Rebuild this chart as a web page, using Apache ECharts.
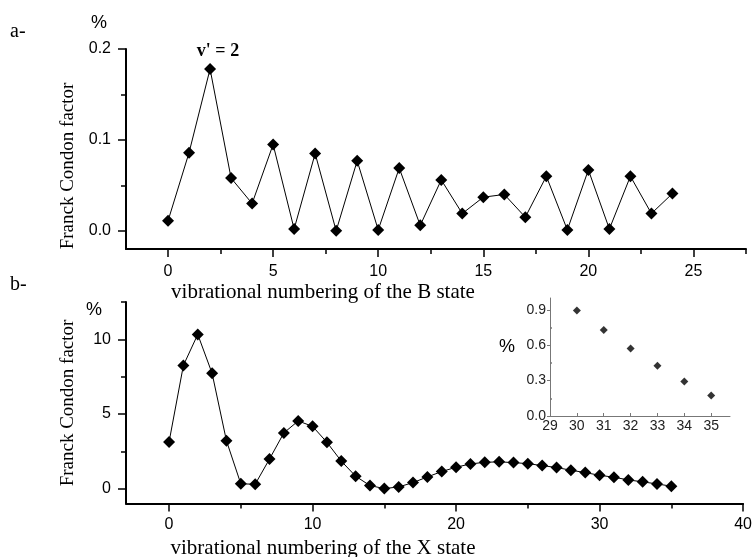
<!DOCTYPE html>
<html>
<head>
<meta charset="utf-8">
<script src="https://cdn.jsdelivr.net/npm/echarts@6/dist/echarts.min.js"></script>
<style>html,body{margin:0;padding:0;background:#fff}#c{width:755px;height:557px}</style>
</head>
<body>
<div id="c"></div>
<script>
// Panel a: Franck-Condon factors vs B-state vibrational level v'
const levelsB = [0,1,2,3,4,5,6,7,8,9,10,11,12,13,14,15,16,17,18,19,20,21,22,23,24];
const fcfB = [0.011,0.086,0.178,0.058,0.030,0.095,0.002,0.085,0.000,0.077,0.001,0.069,0.006,0.056,0.019,0.037,0.040,0.015,0.060,0.001,0.067,0.002,0.060,0.019,0.041];
// Panel b: Franck-Condon factors vs X-state vibrational level
const levelsX = [0,1,2,3,4,5,6,7,8,9,10,11,12,13,14,15,16,17,18,19,20,21,22,23,24,25,26,27,28,29,30,31,32,33,34,35];
const fcfX = [3.12,8.25,10.33,7.72,3.20,0.32,0.29,1.98,3.73,4.53,4.17,3.10,1.84,0.83,0.20,0.00,0.11,0.40,0.78,1.14,1.43,1.65,1.76,1.79,1.74,1.67,1.54,1.41,1.23,1.07,0.89,0.76,0.58,0.45,0.31,0.16];
// Inset: tail of panel b
const levelsInset = [30,31,32,33,34,35];
const fcfInset = [0.895,0.729,0.573,0.425,0.293,0.174];
// Tick labels
const ticksTopX = [0,5,10,15,20,25];
const minorTopX = [2.5,7.5,12.5,17.5,22.5,27.5];
const ticksTopY = [0,0.1,0.2];
const minorTopY = [0.05,0.15];
const ticksBotX = [0,10,20,30,40];
const minorBotX = [5,15,25,35];
const ticksBotY = [0,5,10];
const minorBotY = [2.5,7.5,12.5];
const ticksInsetX = [29,30,31,32,33,34,35];
const ticksInsetY = [0,0.3,0.6,0.9];
const minorInsetY = [0.15,0.45,0.75];

const SANS = "'Liberation Sans', Arial, sans-serif";
const SERIF = "'Liberation Serif', 'Times New Roman', serif";

function mainAxis(dim, grid, min, max, major, fmt, margin) {
  return {
    type: 'value', gridIndex: grid, min: min, max: max,
    position: dim === 'x' ? 'bottom' : 'left',
    splitLine: {show: false},
    axisLine: {show: true, onZero: false, lineStyle: {color: '#000', width: 2}},
    axisTick: {show: true, inside: false, length: 8, customValues: major, lineStyle: {color: '#000', width: 1.5}},
    axisLabel: {show: true, customValues: major, margin: margin, color: '#000', fontFamily: SANS, fontSize: 16,
      formatter: fmt, showMinLabel: true, showMaxLabel: true}
  };
}
function minorAxis(dim, grid, min, max, minor, len, color, inside) {
  return {
    type: 'value', gridIndex: grid, min: min, max: max,
    position: dim === 'x' ? 'bottom' : 'left',
    splitLine: {show: false},
    axisLine: {show: false, onZero: false},
    axisTick: {show: true, inside: !!inside, length: len, customValues: minor, lineStyle: {color: color, width: 1.5}},
    axisLabel: {show: false}
  };
}

const xAxes = [
  mainAxis('x', 0, -2, 27.5, ticksTopX, v => String(v), 15),
  minorAxis('x', 0, -2, 27.5, minorTopX, 5, '#000'),
  mainAxis('x', 1, -3, 40, ticksBotX, v => String(v), 13),
  minorAxis('x', 1, -3, 40, minorBotX, 5, '#000'),
  {
    type: 'value', gridIndex: 2, min: 29, max: 35.7, position: 'bottom',
    splitLine: {show: false},
    axisLine: {show: true, onZero: false, lineStyle: {color: '#777', width: 1}},
    axisTick: {show: true, inside: true, length: 3, customValues: ticksInsetX, lineStyle: {color: '#777', width: 1}},
    axisLabel: {show: true, customValues: ticksInsetX, margin: 3, color: '#222', fontFamily: SANS, fontSize: 14}
  }
];
const yAxes = [
  mainAxis('y', 0, -0.02, 0.2, ticksTopY, v => v.toFixed(1), 15),
  minorAxis('y', 0, -0.02, 0.2, minorTopY, 5, '#000'),
  mainAxis('y', 1, -1, 12.5, ticksBotY, v => String(v), 15),
  minorAxis('y', 1, -1, 12.5, minorBotY, 5, '#000'),
  {
    type: 'value', gridIndex: 2, min: 0, max: 1.0, position: 'left',
    splitLine: {show: false},
    axisLine: {show: true, onZero: false, lineStyle: {color: '#777', width: 1}},
    axisTick: {show: true, inside: false, length: 3, customValues: ticksInsetY, lineStyle: {color: '#777', width: 1}},
    axisLabel: {show: true, customValues: ticksInsetY, margin: 4, color: '#222', fontFamily: SANS, fontSize: 14,
      formatter: v => v.toFixed(1)}
  },
  minorAxis('y', 2, 0, 1.0, minorInsetY, 2, '#777', true)
];

const option = {
  animation: false,
  backgroundColor: '#fff',
  grid: [
    {left: 126, top: 49, width: 620, height: 200},
    {left: 126, top: 302, width: 620, height: 201.5},
    {left: 550, top: 298, width: 180, height: 118}
  ],
  xAxis: xAxes,
  yAxis: yAxes,
  series: [
    {
      type: 'line', xAxisIndex: 0, yAxisIndex: 0,
      data: levelsB.map((x, i) => [x, fcfB[i]]),
      symbol: 'diamond', symbolSize: 12,
      itemStyle: {color: '#000'}, lineStyle: {color: '#000', width: 1}
    },
    {
      type: 'line', xAxisIndex: 2, yAxisIndex: 2,
      data: levelsX.map((x, i) => [x, fcfX[i]]),
      symbol: 'diamond', symbolSize: 12,
      itemStyle: {color: '#000'}, lineStyle: {color: '#000', width: 1}
    },
    {
      type: 'scatter', xAxisIndex: 4, yAxisIndex: 4,
      data: levelsInset.map((x, i) => [x, fcfInset[i]]),
      symbol: 'diamond', symbolSize: 8,
      itemStyle: {color: '#000'}
    }
  ],
  graphic: [
    {type: 'text', left: 10, top: 22, style: {text: 'a-', font: '20px ' + SERIF, fill: '#000'}},
    {type: 'text', x: 99, y: 23, style: {text: '%', font: '18px ' + SANS, fill: '#000', align: 'center', verticalAlign: 'middle'}},
    {type: 'text', x: 218, y: 51, style: {text: "v' = 2", font: 'bold 18px ' + SERIF, fill: '#000', align: 'center', verticalAlign: 'middle'}},
    {type: 'text', x: 68, y: 166, rotation: Math.PI / 2, style: {text: 'Franck Condon factor', font: '19px ' + SERIF, fill: '#000', align: 'center', verticalAlign: 'middle'}},
    {type: 'text', x: 323, y: 292, style: {text: 'vibrational numbering of the B state', font: '21px ' + SERIF, fill: '#000', align: 'center', verticalAlign: 'middle'}},
    {type: 'text', left: 10, top: 275, style: {text: 'b-', font: '20px ' + SERIF, fill: '#000'}},
    {type: 'text', x: 94, y: 310, style: {text: '%', font: '18px ' + SANS, fill: '#000', align: 'center', verticalAlign: 'middle'}},
    {type: 'text', x: 68, y: 403, rotation: Math.PI / 2, style: {text: 'Franck Condon factor', font: '19px ' + SERIF, fill: '#000', align: 'center', verticalAlign: 'middle'}},
    {type: 'text', x: 323, y: 548, style: {text: 'vibrational numbering of the X state', font: '21px ' + SERIF, fill: '#000', align: 'center', verticalAlign: 'middle'}},
    {type: 'text', x: 507, y: 347, style: {text: '%', font: '18px ' + SANS, fill: '#000', align: 'center', verticalAlign: 'middle'}}
  ]
};

const chart = echarts.init(document.getElementById('c'), null, {renderer: 'canvas'});
chart.setOption(option);
</script>
</body>
</html>
